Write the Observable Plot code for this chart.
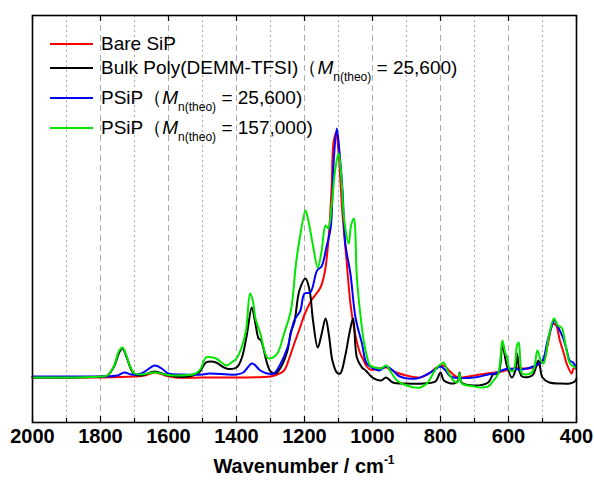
<!DOCTYPE html>
<html><head><meta charset="utf-8">
<script src="https://cdn.jsdelivr.net/npm/d3@7"></script>
<script src="https://cdn.jsdelivr.net/npm/@observablehq/plot@0.6"></script>
<style>
body{margin:0;background:#fff;font-family:"Liberation Sans",Arial,sans-serif;}
#wrap{position:relative;width:594px;height:481px;overflow:hidden;}
.row{position:absolute;left:50px;height:20px;display:flex;align-items:center;white-space:nowrap;font-size:19px;color:#000;}
.sw{width:43px;height:2px;margin-right:8px;}
.row sub{font-size:12px;vertical-align:-7px;line-height:0;}
#title{position:absolute;top:455px;left:32px;width:544px;text-align:center;font-weight:bold;font-size:20px;}
#title sup{font-size:12px;vertical-align:9px;line-height:0;}
</style></head>
<body><div id="wrap"><div id="chart"></div>
<div id="legend"></div>
<div id="title">Wavenumber / cm<sup>-1</sup></div></div>
<script>
const seriesNames = ["Bare SiP","Bulk Poly(DEMM-TFSI)","PSiP 25,600","PSiP 157,000"];
const seriesColors = ["#ff0000","#000000","#0000ff","#00e600"];

const bareWn = [2000,1900,1800,1700,1670,1640,1610,1580,1500,1400,1300,1280,1260,1245,1230,1212,1200,1180,1153,1140,1129,1120,1115,1107,1100,1089,1076,1065,1055,1045,1036,1026,1017,1007,990,960,930,900,860,830,811,791,775,755,742,700,664,620,585,550,527,497,485,469,460,449,438,429,414,409,402];
const bareAbs = [-1,-1,-1,0,1,4,1,-1,-1,-1,0,2,6,18,33,50,62,76,89,105,139,190,233,244,225,166,115,73,50,33,23,16,10,7,7,9,4,1,-1,4,9,11,6,0,-1,1,3,5,8,8,9,16,31,53,51,36,24,13,3,8,8];

const bulkWn = [2000,1900,1800,1780,1760,1745,1735,1725,1710,1700,1680,1640,1610,1580,1540,1510,1490,1475,1460,1430,1400,1385,1370,1355,1345,1335,1328,1310,1300,1285,1270,1250,1240,1230,1215,1197,1185,1175,1161,1150,1138,1128,1118,1105,1095,1080,1068,1057,1046,1031,1020,1000,975,960,940,900,850,815,800,790,760,748,744,738,700,660,645,630,618,605,590,580,575,568,560,530,512,500,480,450,420,405,400];
const bulkAbs = [-1,-1,0,1,10,24,28,21,7,2,1,5,2,0,0,4,14,15,14,8,9,18,41,69,54,38,36,13,5,3,9,26,45,54,86,98,86,56,29,42,58,41,16,4,3,21,43,58,19,9,6,-1,-4,-1,-6,-7,-7,-5,4,-4,-7,-4,4,-6,-9,-6,2,3,31,11,-1,6,23,6,0,1,16,-1,-6,-7,-7,-5,-2];

const psipWn = [2000,1900,1800,1750,1730,1710,1680,1640,1620,1600,1560,1500,1480,1400,1380,1354,1330,1310,1290,1270,1250,1230,1212,1200,1183,1163,1150,1135,1123,1114,1105,1095,1088,1080,1065,1050,1031,1017,997,980,960,940,920,870,840,820,800,785,770,700,660,640,620,600,560,520,500,485,472,465,455,440,430,420,410,402];
const psipAbs = [0,0,0,1,4,2,3,11,8,3,2,2,3,2,4,13,6,3,3,13,29,56,66,83,84,106,110,130,149,216,248,216,185,133,103,59,33,13,8,6,10,6,0,-2,2,6,10,6,0,-1,2,3,6,8,7,11,16,36,51,56,50,39,28,16,14,9];

const psip2Wn = [2000,1900,1800,1780,1760,1745,1735,1725,1710,1700,1680,1640,1610,1580,1520,1505,1490,1470,1460,1440,1430,1410,1400,1385,1372,1360,1352,1345,1335,1330,1310,1300,1280,1260,1240,1225,1215,1197,1190,1175,1161,1150,1138,1130,1120,1110,1100,1092,1083,1070,1063,1055,1046,1037,1026,1017,1007,992,975,960,945,928,900,860,840,820,811,800,791,780,762,750,744,737,700,683,660,644,630,618,610,605,595,585,575,570,565,560,536,525,515,505,497,480,466,455,444,432,419,404];
const psip2Abs = [-1,-1,0,1,11,26,29,22,8,3,2,4,2,1,3,8,19,19,18,13,11,15,18,29,46,83,76,59,48,43,19,18,23,43,66,113,136,166,158,131,109,125,151,148,171,206,223,201,156,133,151,158,99,66,36,21,11,9,8,11,4,-4,-9,-11,-7,4,9,12,14,6,-4,-6,3,-7,-10,-11,-10,-4,3,36,24,20,6,6,31,34,14,3,3,8,26,16,13,43,58,51,49,31,13,9];

const majorTicks = [2000,1800,1600,1400,1200,1000,800,600,400];
const minorTicks = [1900,1700,1500,1300,1100,900,700,500];
const yDomain = [-46, 361];

const toRows = (wn, ab, s) => wn.map((w, i) => ({wn: w, abs: ab[i], series: s}));
const data = [
  ...toRows(bareWn, bareAbs, seriesNames[0]),
  ...toRows(bulkWn, bulkAbs, seriesNames[1]),
  ...toRows(psipWn, psipAbs, seriesNames[2]),
  ...toRows(psip2Wn, psip2Abs, seriesNames[3])
];

const chart = Plot.plot({
  width: 594, height: 450,
  marginLeft: 32, marginRight: 18, marginTop: 15, marginBottom: 28,
  style: {fontFamily: '"Liberation Sans", Arial, sans-serif', background: "#fff"},
  x: {domain: [2000, 400]},
  y: {domain: yDomain, axis: null},
  color: {domain: seriesNames, range: seriesColors},
  marks: [
    Plot.ruleX(majorTicks, {x: d => d, stroke: "#aaa", strokeWidth: 1, strokeDasharray: "6,4"}),
    Plot.ruleX(minorTicks, {x: d => d, stroke: "#aaa", strokeWidth: 1, strokeDasharray: "2,3"}),
    Plot.line(data, {x: "wn", y: "abs", z: "series", stroke: "series", strokeWidth: 2, curve: "catmull-rom"}),
    Plot.ruleX(majorTicks, {x: d => d, y1: yDomain[0], y2: yDomain[0] + 6, stroke: "#000", strokeWidth: 1.2}),
    Plot.ruleX(minorTicks, {x: d => d, y1: yDomain[0], y2: yDomain[0] + 4, stroke: "#000", strokeWidth: 1.2}),
    Plot.ruleX(majorTicks, {x: d => d, y1: yDomain[1], y2: yDomain[1] - 6, stroke: "#000", strokeWidth: 1.2}),
    Plot.frame({stroke: "#000", strokeWidth: 1.6}),
    Plot.axisX(majorTicks, {tickSize: 0, tickPadding: 6, fontSize: 20, fontWeight: "bold", fill: "#000", label: null, tickFormat: d => String(d)})
  ]
});
document.getElementById("chart").appendChild(chart);

const legendLabels = [
  'Bare SiP',
  'Bulk Poly(DEMM-TFSI)（<i>M</i><sub>n(theo)</sub> = 25,600)',
  'PSiP（<i>M</i><sub>n(theo)</sub> = 25,600)',
  'PSiP（<i>M</i><sub>n(theo)</sub> = 157,000)'
];
const legendY = [34, 58, 88, 118];
const leg = document.getElementById("legend");
legendLabels.forEach((t, i) => {
  const r = document.createElement("div");
  r.className = "row";
  r.style.top = legendY[i] + "px";
  r.innerHTML = `<span class="sw" style="background:${seriesColors[i]}"></span><span>${t}</span>`;
  leg.appendChild(r);
});
</script></body></html>
